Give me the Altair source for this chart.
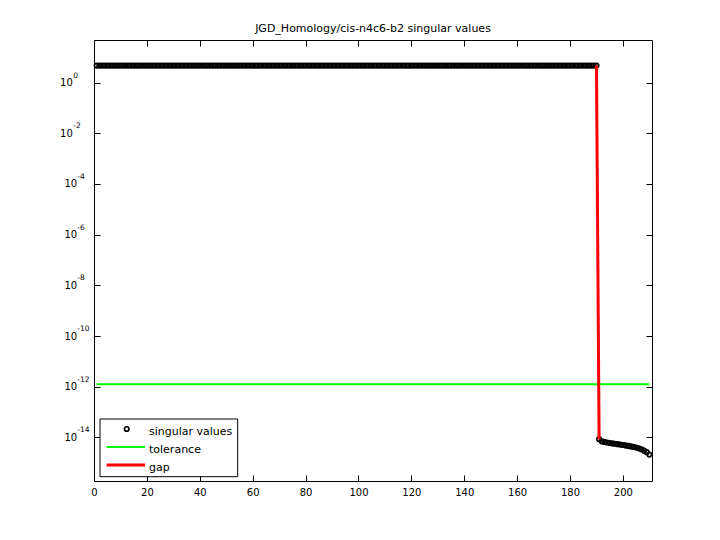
import pandas as pd
import altair as alt

# ---- values ----
# ranks 1..190 all sit on one flat line near 4.7
sv_top = [4.7] * 190
# ranks 191..210
sv_tail = [8.5e-15, 7.0e-15, 6.6e-15, 6.3e-15, 6.0e-15, 5.8e-15, 5.6e-15, 5.4e-15,
           5.2e-15, 5.0e-15, 4.8e-15, 4.6e-15, 4.4e-15, 4.2e-15, 4.0e-15, 3.7e-15,
           3.4e-15, 3.0e-15, 2.6e-15, 2.1e-15]
tolerance = 1.26e-12
gap_rank = 190

x_ticks = [0, 20, 40, 60, 80, 100, 120, 140, 160, 180, 200]
y_ticks = [1e0, 1e-2, 1e-4, 1e-6, 1e-8, 1e-10, 1e-12, 1e-14]
y_exps = ['0', '-2', '-4', '-6', '-8', '-10', '-12', '-14']
legend_labels = ['singular values', 'tolerance', 'gap']

title = 'JGD_Homology/cis-n4c6-b2 singular values'

sv = sv_top + sv_tail
n = len(sv)
x_dom = [0, n + 1]
y_dom = [1.9e-16, 48]
font = 'DejaVu Sans'

sv_df = pd.DataFrame({'k': range(1, n + 1), 'sv': sv})
tol_df = pd.DataFrame({'k': [1, n], 'sv': [tolerance, tolerance]})
gap_df = pd.DataFrame({'k': [gap_rank, gap_rank + 1], 'sv': [sv[gap_rank - 1], sv[gap_rank]]})
exp_df = pd.DataFrame({'value': y_ticks, 'exp': y_exps})

xs = alt.Scale(domain=x_dom, nice=False, zero=False)
ys = alt.Scale(type='log', domain=y_dom, nice=False)

# points carry the bottom / left axes (ticks pointing inward)
points = alt.Chart(sv_df).mark_point(shape='circle', filled=False, color='black',
                                     size=20, strokeWidth=1.7, opacity=1).encode(
    x=alt.X('k:Q', scale=xs,
            axis=alt.Axis(orient='bottom', values=x_ticks, offset=-6, tickSize=6,
                          domain=False, grid=False, title=None, labelPadding=6,
                          labelFlush=False)),
    y=alt.Y('sv:Q', scale=ys,
            axis=alt.Axis(orient='left', values=y_ticks, offset=-6, tickSize=6,
                          domain=False, grid=False, title=None, labelExpr="'10'",
                          labelAlign='right', labelBaseline='middle',
                          labelPadding={"condition": {"test": "datum.value >= 0.01", "value": 21.7},
                                        "value": 17.3}))
)

# tolerance line carries the mirrored top / right ticks
tol = alt.Chart(tol_df).mark_line(color='#00ff00', strokeWidth=2).encode(
    x=alt.X('k:Q', scale=xs,
            axis=alt.Axis(orient='top', values=x_ticks, offset=-6, tickSize=6,
                          domain=False, grid=False, labels=False, title=None)),
    y=alt.Y('sv:Q', scale=ys,
            axis=alt.Axis(orient='right', values=y_ticks, offset=-6, tickSize=6,
                          domain=False, grid=False, labels=False, title=None))
)

gap = alt.Chart(gap_df).mark_line(color='#ff0000', strokeWidth=3).encode(
    x=alt.X('k:Q', scale=xs, axis=None),
    y=alt.Y('sv:Q', scale=ys, axis=None)
)

# superscript exponents next to the "10" tick labels
exps = alt.Chart(exp_df).transform_calculate(
    px="datum.value >= 0.01 ? -20.7 : -16.7"
).mark_text(align='left', baseline='middle', dy=-7, fontSize=7.5, font=font,
            color='black').encode(
    x=alt.X('px:Q', scale=None, axis=None),
    y=alt.Y('value:Q', scale=ys, axis=None),
    text='exp:N'
)

# legend box drawn by hand, MATLAB style
one = pd.DataFrame({'a': [0]})
leg_box = alt.Chart(one).mark_rect(fill='white', stroke='black', strokeWidth=1).encode(
    x=alt.value(6), x2=alt.value(143.7), y=alt.value(379), y2=alt.value(436.7))
leg_pt = alt.Chart(one).mark_point(shape='circle', filled=False, color='black',
                                   size=20, strokeWidth=1.7, opacity=1).encode(
    x=alt.value(32.7), y=alt.value(389))
leg_tol = alt.Chart(one).mark_rule(color='#00ff00', strokeWidth=2).encode(
    x=alt.value(12.7), x2=alt.value(51), y=alt.value(407))
leg_gap = alt.Chart(one).mark_rule(color='#ff0000', strokeWidth=3).encode(
    x=alt.value(12.7), x2=alt.value(51), y=alt.value(425))
leg_text = [
    alt.Chart(one).mark_text(align='left', baseline='middle', fontSize=11, font=font,
                             color='black').encode(
        x=alt.value(55), y=alt.value(yy), text=alt.value(lab))
    for lab, yy in zip(legend_labels, [391.5, 409.5, 427.5])
]

chart = alt.layer(points, tol, gap, exps, leg_box, leg_pt, leg_tol, leg_gap, *leg_text).resolve_axis(
    x='independent', y='independent'
).properties(
    width=558, height=441,
    title=alt.TitleParams(title, anchor='middle', fontSize=11, fontWeight='normal',
                          font=font, color='black', offset=6),
    autosize=alt.AutoSizeParams(type='none'),
    padding={'left': 86, 'top': 32, 'right': 60, 'bottom': 51},
    background='white'
).configure_view(
    stroke='black', strokeWidth=1
).configure_axis(
    labelFont=font, labelFontSize=10, labelColor='black',
    tickColor='black', tickWidth=1
)

chart.save("out.html", embed_options={"renderer": "svg", "actions": False})
